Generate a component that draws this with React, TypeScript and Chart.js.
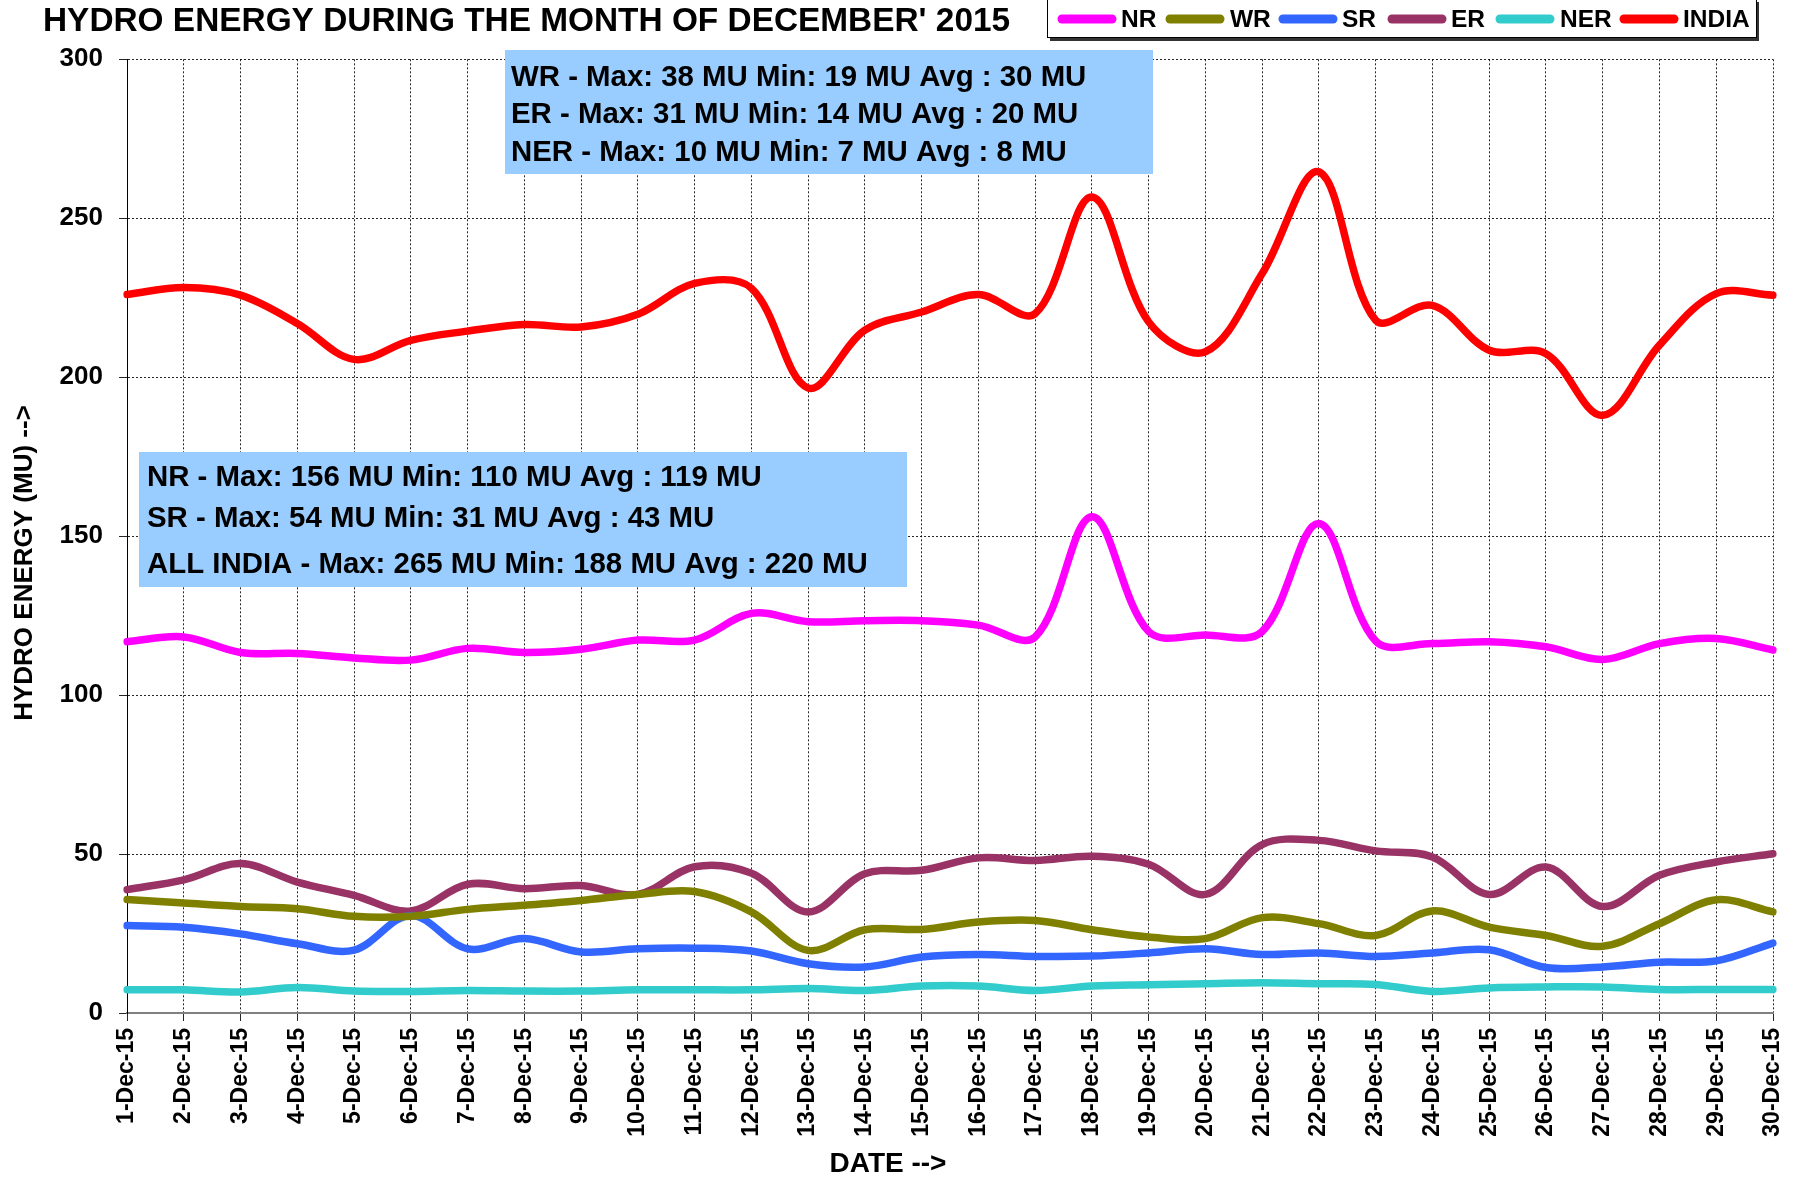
import React, { useEffect, useRef } from 'react';
import { Chart, registerables } from 'chart.js';

Chart.register(...registerables);

const DATES = [
  '1-Dec-15', '2-Dec-15', '3-Dec-15', '4-Dec-15', '5-Dec-15', '6-Dec-15', '7-Dec-15', '8-Dec-15',
  '9-Dec-15', '10-Dec-15', '11-Dec-15', '12-Dec-15', '13-Dec-15', '14-Dec-15', '15-Dec-15',
  '16-Dec-15', '17-Dec-15', '18-Dec-15', '19-Dec-15', '20-Dec-15', '21-Dec-15', '22-Dec-15',
  '23-Dec-15', '24-Dec-15', '25-Dec-15', '26-Dec-15', '27-Dec-15', '28-Dec-15', '29-Dec-15', '30-Dec-15',
];

const NR = [116.8, 118.3, 113.4, 113.1, 111.7, 111.0, 114.7, 113.4, 114.4, 117.3, 117.3, 125.7, 123.1, 123.4, 123.4,
  122.0, 118.3, 156.1, 120.0, 118.9, 120.0, 154.0, 117.0, 116.2, 116.8, 115.2, 111.2, 116.2, 117.8, 114.2];
const WR = [35.7, 34.6, 33.5, 32.8, 30.4, 30.4, 32.6, 33.9, 35.4, 37.3, 38.2, 31.8, 19.7, 26.2, 26.3,
  28.6, 29.1, 26.2, 23.9, 23.4, 30.0, 28.1, 24.4, 32.1, 27.0, 24.4, 21.0, 28.1, 35.6, 31.8];
const SR = [27.5, 27.0, 24.9, 21.8, 19.8, 30.7, 20.2, 23.4, 19.2, 20.2, 20.4, 19.5, 15.5, 14.5, 17.6,
  18.4, 17.8, 17.9, 18.9, 20.2, 18.4, 18.9, 17.8, 18.9, 19.9, 14.3, 14.5, 16.0, 16.4, 22.0];
const ER = [38.8, 41.9, 47.0, 41.2, 37.0, 32.1, 40.5, 39.1, 40.1, 37.3, 46.0, 44.0, 31.8, 43.8, 44.9,
  48.8, 48.0, 49.3, 46.8, 37.3, 53.0, 54.3, 51.0, 49.1, 37.3, 45.9, 33.5, 43.3, 47.5, 50.1];
const NER = [7.3, 7.3, 6.6, 8.0, 6.9, 6.8, 7.1, 6.9, 6.9, 7.3, 7.3, 7.3, 7.7, 7.1, 8.5,
  8.5, 7.1, 8.5, 8.9, 9.2, 9.5, 9.2, 9.0, 6.8, 7.9, 8.2, 8.2, 7.4, 7.4, 7.4];
const INDIA = [226.0, 228.2, 225.8, 216.9, 205.6, 211.6, 214.5, 216.6, 215.8, 219.8, 229.5, 228.0, 196.6, 214.8, 220.5,
  226.0, 220.0, 256.7, 217.4, 208.0, 232.6, 264.6, 217.9, 222.6, 208.5, 207.4, 188.0, 210.1, 226.3, 225.8];

const SERIES_NAMES = ['NR', 'WR', 'SR', 'ER', 'NER', 'INDIA'];
const SERIES_VALUES = [NR, WR, SR, ER, NER, INDIA];
const SERIES_COLORS = ['#FF00FF', '#808000', '#3366FF', '#993366', '#33CCCC', '#FF0000'];

const Y_MIN = 0;
const Y_MAX = 300;
const Y_STEP = 50;

const TITLE = "HYDRO ENERGY DURING THE MONTH OF DECEMBER' 2015";
const Y_TITLE = 'HYDRO ENERGY (MU) -->';
const X_TITLE = 'DATE -->';
const BOX_TOP_LINES = [
  'WR - Max: 38 MU Min: 19 MU Avg : 30 MU',
  'ER - Max: 31 MU Min: 14 MU Avg : 20 MU',
  'NER - Max: 10 MU Min: 7 MU Avg : 8 MU',
];
const BOX_MID_LINES = [
  'NR - Max: 156 MU Min: 110 MU Avg : 119 MU',
  'SR - Max: 54 MU Min: 31 MU Avg : 43 MU',
  'ALL INDIA - Max: 265 MU Min: 188 MU Avg : 220 MU',
];

const FONT = '"Liberation Sans", Arial, sans-serif';
const W = 1797;
const H = 1179;

// legend item anchors (marker start, text start) in page pixels
const LEGEND_MARKER_X = [1062, 1170, 1283, 1392, 1500, 1624];
const LEGEND_TEXT_X = [1121, 1230, 1342, 1451, 1560, 1683];

const decorPlugin = {
  id: 'decor',
  beforeDatasetsDraw(chart: any) {
    const ctx = chart.ctx as CanvasRenderingContext2D;
    ctx.save();
    ctx.fillStyle = '#99CCFF';
    ctx.fillRect(505, 50, 648, 124);
    ctx.fillRect(139, 452, 768, 135);
    ctx.fillStyle = '#000';
    ctx.font = `bold 29.4px ${FONT}`;
    ctx.textAlign = 'left';
    ctx.textBaseline = 'alphabetic';
    const topBase = [86, 123, 161];
    BOX_TOP_LINES.forEach((t, i) => ctx.fillText(t, 511, topBase[i]));
    const midBase = [486, 527, 573];
    BOX_MID_LINES.forEach((t, i) => ctx.fillText(t, 147, midBase[i]));
    ctx.restore();
  },
  afterDraw(chart: any) {
    const ctx = chart.ctx as CanvasRenderingContext2D;
    ctx.save();
    ctx.fillStyle = '#000';
    ctx.font = `bold 33.4px ${FONT}`;
    ctx.textAlign = 'left';
    ctx.textBaseline = 'alphabetic';
    ctx.fillText(TITLE, 43, 31);

    // legend box
    ctx.fillStyle = '#fff';
    ctx.fillRect(1047, -1, 709, 39);
    ctx.fillStyle = '#333';
    ctx.fillRect(1756, 2, 3, 39);
    ctx.fillRect(1050, 38, 709, 3);
    ctx.strokeStyle = '#000';
    ctx.lineWidth = 1;
    ctx.strokeRect(1047.5, -1.5, 709, 39);

    ctx.font = `bold 24.5px ${FONT}`;
    ctx.textBaseline = 'middle';
    const ly = 19;
    SERIES_NAMES.forEach((name, i) => {
      const mx = LEGEND_MARKER_X[i];
      ctx.strokeStyle = SERIES_COLORS[i];
      ctx.lineWidth = 9;
      ctx.lineCap = 'round';
      ctx.beginPath();
      ctx.moveTo(mx, ly);
      ctx.lineTo(mx + 50, ly);
      ctx.stroke();
      ctx.fillStyle = '#000';
      ctx.fillText(name, LEGEND_TEXT_X[i], ly + 1);
    });

    // axis titles
    ctx.font = `bold 26px ${FONT}`;
    ctx.textAlign = 'center';
    ctx.textBaseline = 'middle';
    ctx.save();
    ctx.translate(25, 563);
    ctx.rotate(-Math.PI / 2);
    ctx.fillText(Y_TITLE, 0, 0);
    ctx.restore();

    ctx.font = `bold 28px ${FONT}`;
    ctx.fillText(X_TITLE, 888, 1164);
    ctx.restore();
  },
};

export default function App() {
  const ref = useRef<HTMLCanvasElement | null>(null);

  useEffect(() => {
    if (!ref.current) return;
    const chart = new Chart(ref.current, {
      type: 'line',
      data: {
        labels: DATES,
        datasets: SERIES_NAMES.map((name, i) => ({
          label: name,
          data: SERIES_VALUES[i],
          borderColor: SERIES_COLORS[i],
          backgroundColor: SERIES_COLORS[i],
          borderWidth: 7.5,
          pointRadius: 0,
          pointHoverRadius: 0,
          tension: 0.35,
          borderCapStyle: 'round',
          borderJoinStyle: 'round',
          fill: false,
        })),
      },
      options: {
        responsive: false,
        animation: false,
        devicePixelRatio: 1,
        layout: { padding: { top: 59.3, left: 0, right: 24, bottom: 0 } },
        plugins: {
          legend: { display: false },
          title: { display: false },
          tooltip: { enabled: false },
        },
        scales: {
          x: {
            type: 'category',
            offset: false,
            afterFit: (s: any) => { s.height = H - 1013; s.paddingRight = 0; s.paddingLeft = 0; },
            grid: {
              color: 'rgba(0,0,0,0.85)',
              lineWidth: 1,
              tickLength: 8,
              drawTicks: true,
            },
            border: { display: true, color: '#808080', width: 2, dash: [2, 2] },
            ticks: {
              autoSkip: false,
              maxRotation: 90,
              minRotation: 90,
              padding: 7,
              color: '#000',
              font: { family: FONT, size: 23, weight: 'bold' },
            },
          },
          y: {
            min: Y_MIN,
            max: Y_MAX,
            afterFit: (s: any) => { s.width = 127; s.paddingTop = 0; s.paddingBottom = 0; },
            grid: {
              color: 'rgba(0,0,0,0.85)',
              lineWidth: 1,
              tickLength: 8,
              drawTicks: true,
            },
            border: { display: true, color: '#000', width: 1, dash: [2, 2] },
            ticks: {
              stepSize: Y_STEP,
              padding: 16,
              color: '#000',
              font: { family: FONT, size: 26, weight: 'bold' },
            },
          },
        },
      } as any,
      plugins: [decorPlugin],
    });
    return () => chart.destroy();
  }, []);

  return (
    <div style={{ position: 'fixed', left: 0, top: 0, width: W, height: H, background: '#fff' }}>
      <canvas ref={ref} width={W} height={H} style={{ display: 'block', width: W, height: H }} />
    </div>
  );
}
